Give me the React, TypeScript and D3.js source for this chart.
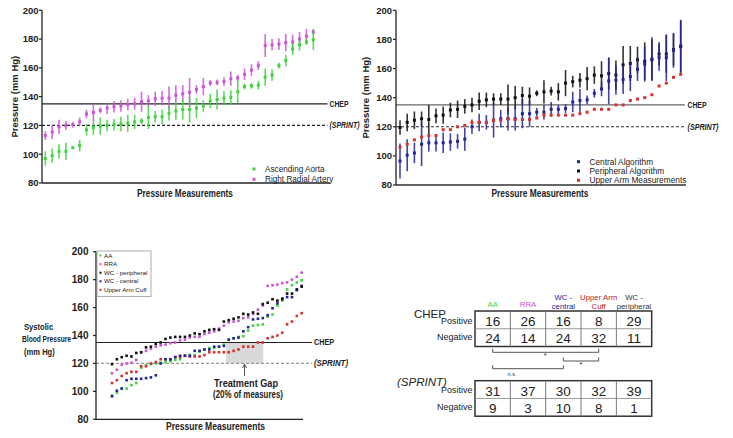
import React from "react";
import * as d3 from "d3";

// ---------- DATA ----------
const measurements = d3.range(40);
const yTicks = [80, 100, 120, 140, 160, 180, 200];
const CHEP = 135;
const SPRINT = 120;

const aaMean = [97, 99, 102, 102, 104.5, 106, 117, 118.5, 119.5, 120, 120.5, 121, 121.5, 122.5, 123, 125.5, 126, 126, 128.5, 130, 131, 131, 132, 133.5, 137, 138, 139, 139.5, 143.5, 147, 147.5, 148, 153.5, 155, 161.5, 165, 173, 176, 178, 179.5];
const aaErr = [5, 5, 5, 6, 1, 4, 4, 5, 6, 4, 4, 5, 6, 5, 2, 8, 4, 5, 5, 6, 7, 9, 7, 4, 5, 7, 5, 5, 8, 2, 2, 3, 6, 4, 2, 4, 4, 4, 2, 7];
const rraMean = [113, 115.5, 119, 120, 120.5, 122.5, 128, 129, 130.5, 132, 133, 133.5, 134.5, 135, 136.5, 137, 138.5, 139, 139, 141, 142, 143, 145, 147, 149.5, 150, 150.5, 152.5, 153, 155.5, 158.5, 161.5, 175.5, 176, 176.5, 177.5, 178, 180, 182, 185];
const rraErr = [3, 5, 5, 3, 2, 3, 3, 6, 2, 4, 4, 4, 4, 4, 7, 4, 5, 5, 8, 7, 6, 10, 3, 6, 2, 2, 3, 5, 2, 4, 4, 3, 8, 4, 4, 6, 5, 5, 5, 2];

const periphMean = [119.5, 123, 124.5, 125.5, 125, 127.5, 128, 131.5, 132, 134, 135, 137.5, 138.5, 139, 139, 139, 140, 141.5, 141, 143, 144, 144.5, 144, 150, 151, 152, 153, 155.5, 155, 156.5, 155.5, 162.5, 163.5, 166, 165, 166, 170, 170, 173, 175];
const periphErr = [5, 6, 6, 5, 10, 5, 6, 5, 6, 5, 5, 6, 5, 4, 4, 10, 8, 6, 6, 2, 8, 3, 6, 9, 4, 5, 8, 6, 10, 11, 10, 13, 12, 9, 13, 14, 8, 13, 11, 18];
const centralMean = [96.5, 100.5, 102, 108, 109, 109, 109, 109.5, 110, 111.5, 120, 123, 123, 124.5, 125.5, 125.5, 125.5, 129, 129, 130, 130, 132, 132, 132.5, 137, 138, 138.5, 143, 146, 151.5, 152, 152.5, 154.5, 159.5, 163, 166.5, 167.5, 167.5, 172.5, 175.5];
const centralErr = [12, 11, 7, 15, 6, 6, 7, 6, 5, 8, 5, 6, 5, 12, 6, 8, 8, 10, 9, 3, 5, 5, 3, 3, 7, 8, 3, 3, 5, 16, 10, 10, 10, 8, 12, 15, 9, 16, 12, 18];
const cuffValues = [106, 108, 111, 113, 114, 114, 118, 118, 120, 121, 123, 123, 123, 124.5, 124.5, 125.5, 125, 125, 125, 126, 128, 128, 128, 128, 128, 129, 130, 132, 132, 132, 135, 135, 138, 139, 140, 142, 148, 150, 154, 156];

const gapRange = [23.4, 31.1];

const tableCols = [["AA"], ["RRA"], ["WC -", "central"], ["Upper Arm", "Cuff"], ["WC -", "peripheral"]];
const chepPositive = [16, 26, 16, 8, 29];
const chepNegative = [24, 14, 24, 32, 11];
const sprintPositive = [31, 37, 30, 32, 39];
const sprintNegative = [9, 3, 10, 8, 1];
const brackets: [number, number, string][] = [[0, 3, "*"], [2, 3, "*"], [0, 2, "n.s."]];

// ---------- STYLE ----------
const C = {
  aa: "#3fd43f",
  rra: "#cc55d6",
  periph: "#111111",
  central: "#23239a",
  cuff: "#d63030",
};
const colHeaderColors = [C.aa, C.rra, C.central, "#c02020", "#333"];
const FONT = "'Liberation Sans', Arial, Helvetica, sans-serif";

type S = { mean: number[]; err?: number[]; color: string; size?: number };

function Dots({ series, x, y, bw = 1.6 }: { series: S[]; x: any; y: any; bw?: number }) {
  return (
    <g>
      {series.map((s, si) => (
        <g key={si}>
          {s.err &&
            measurements.map((i) => (
              <line key={"e" + i} x1={x(i)} x2={x(i)} y1={y(s.mean[i] - s.err![i])} y2={y(s.mean[i] + s.err![i])} stroke={s.color} strokeWidth={bw} opacity={0.85} />
            ))}
          {measurements.map((i) => {
            const sz = s.size ?? 3;
            return <rect key={"p" + i} x={x(i) - sz / 2} y={y(s.mean[i]) - sz / 2} width={sz} height={sz} fill={s.color} />;
          })}
        </g>
      ))}
    </g>
  );
}

function YAxis({ y, x0, fs, labelX }: { y: any; x0: number; fs: number; labelX: number }) {
  return (
    <g>
      <line x1={x0} x2={x0} y1={y(200)} y2={y(80)} stroke="#222" strokeWidth={1.3} />
      {yTicks.map((t) => (
        <g key={t}>
          <line x1={x0 - 3} x2={x0} y1={y(t)} y2={y(t)} stroke="#222" strokeWidth={1.2} />
          <text x={labelX} y={y(t)} dy="0.35em" textAnchor="end" fontSize={fs} fontWeight="bold" fill="#222">
            {t}
          </text>
        </g>
      ))}
    </g>
  );
}

function Legend({ items, x, y0, dy, fs }: { items: [string, string][]; x: number; y0: number; dy: number; fs: number }) {
  return (
    <g>
      {items.map(([label, color], i) => (
        <g key={label}>
          <rect x={x - 1.5} y={y0 + i * dy - 1.5} width={3} height={3} fill={color} />
          <text x={x + 11} y={y0 + i * dy} dy="0.35em" fontSize={fs} fill="#222">{label}</text>
        </g>
      ))}
    </g>
  );
}

export default function App() {
  // Panel A
  const yA = d3.scaleLinear().domain([80, 200]).range([183, 10.3]);
  const xA = d3.scaleLinear().domain([0, 39]).range([45.3, 313.3]);
  // Panel B
  const yB = d3.scaleLinear().domain([80, 200]).range([185, 10.3]);
  const xB = d3.scaleLinear().domain([0, 39]).range([400, 680.7]);
  // Panel C
  const yC = d3.scaleLinear().domain([80, 200]).range([419.3, 251.7]);
  const xC = d3.scaleLinear().domain([0, 39]).range([112, 301.7]);

  // Table layout
  const colX = d3.scaleLinear().domain([0, 5]).range([475, 651.7]);
  const colC = (i: number) => (colX(i) + colX(i + 1)) / 2;
  const gapMid = xC((gapRange[0] + gapRange[1]) / 2);

  const table = (top: number, pos: number[], neg: number[]) => {
    const h = 35.5;
    return (
      <g>
        <rect x={colX(0)} y={top} width={colX(5) - colX(0)} height={h} fill="none" stroke="#333" strokeWidth={1.5} />
        <line x1={colX(0)} x2={colX(5)} y1={top + h / 2} y2={top + h / 2} stroke="#999" strokeWidth={1} />
        {d3.range(1, 5).map((i) => (
          <line key={i} x1={colX(i)} x2={colX(i)} y1={top} y2={top + h} stroke="#777" strokeWidth={1} />
        ))}
        <text x={472.5} y={top + 9.5} dy="0.35em" textAnchor="end" fontSize={9} fill="#222">Positive</text>
        <text x={472.5} y={top + 26} dy="0.35em" textAnchor="end" fontSize={9} fill="#222">Negative</text>
        {pos.map((v, i) => (
          <text key={"p" + i} x={colC(i)} y={top + 10} dy="0.36em" textAnchor="middle" fontSize={13.5} fill="#222">{v}</text>
        ))}
        {neg.map((v, i) => (
          <text key={"n" + i} x={colC(i)} y={top + 27} dy="0.36em" textAnchor="middle" fontSize={13.5} fill="#222">{v}</text>
        ))}
      </g>
    );
  };

  const thr = (y: any, x0: number, x1: number, tx: number, dashColor: string, chepColor: string, fs: number, wC: number, wS: number) => (
    <g>
      <line x1={x0} x2={x1} y1={y(CHEP)} y2={y(CHEP)} stroke={chepColor} strokeWidth={1.2} />
      <line x1={x0} x2={x1} y1={y(SPRINT)} y2={y(SPRINT)} stroke={dashColor} strokeWidth={1.2} strokeDasharray="3,2" />
      <text x={tx} y={y(CHEP)} dy="0.35em" fontSize={fs} fontWeight="bold" fill="#222" textLength={wC} lengthAdjust="spacingAndGlyphs">CHEP</text>
      <text x={tx} y={y(SPRINT)} dy="0.35em" fontSize={fs} fontWeight="bold" fontStyle="italic" fill="#222" textLength={wS} lengthAdjust="spacingAndGlyphs">(SPRINT)</text>
    </g>
  );

  return (
    <svg width={733} height={438} style={{ position: "absolute", left: 0, top: 0, background: "#fff" }} fontFamily={FONT}>
      <rect width={733} height={438} fill="#fff" />
      {/* ---------- Panel A ---------- */}
      <g>
        {thr(yA, 42, 327.5, 329.5, "#222", "#222", 8.5, 19, 30)}
        <Dots x={xA} y={yA} series={[{ mean: rraMean, err: rraErr, color: C.rra }, { mean: aaMean, err: aaErr, color: C.aa }]} />
        <YAxis y={yA} x0={42} fs={9.5} labelX={38.5} />
        <line x1={42} x2={330} y1={yA(80)} y2={yA(80)} stroke="#222" strokeWidth={1.3} />
        <text transform={`translate(18,${yA(140)}) rotate(-90)`} textAnchor="middle" fontSize={9.5} fontWeight="bold" fill="#222">Pressure (mm Hg)</text>
        <text x={185} y={193.5} dy="0.35em" textAnchor="middle" fontSize={10} fontWeight="bold" fill="#222" textLength={96} lengthAdjust="spacingAndGlyphs">Pressure Measurements</text>
        <Legend items={[["Ascending Aorta", C.aa], ["Right Radial Artery", C.rra]]} x={254} y0={169} dy={10.3} fs={8.2} />
      </g>

      {/* ---------- Panel B ---------- */}
      <g>
        {thr(yB, 396, 685, 687.5, "#333", "#666", 8.5, 19, 31)}
        <Dots
          x={xB}
          y={yB}
          series={[
            { mean: periphMean, err: periphErr, color: C.periph },
            { mean: centralMean, err: centralErr, color: C.central },
            { mean: cuffValues, color: C.cuff },
          ]}
        />
        <YAxis y={yB} x0={396} fs={9.5} labelX={392} />
        <line x1={396} x2={686} y1={yB(80)} y2={yB(80)} stroke="#333" strokeWidth={1.3} />
        <text transform={`translate(369,${yB(140)}) rotate(-90)`} textAnchor="middle" fontSize={9.5} fontWeight="bold" fill="#222">Pressure (mm Hg)</text>
        <text x={540} y={193.5} dy="0.35em" textAnchor="middle" fontSize={10} fontWeight="bold" fill="#222" textLength={97} lengthAdjust="spacingAndGlyphs">Pressure Measurements</text>
        <Legend items={[["Central Algorithm", C.central], ["Peripheral Algorithm", C.periph], ["Upper Arm Measurements", C.cuff]]} x={578.5} y0={161.7} dy={9.3} fs={8.3} />
      </g>

      {/* ---------- Panel C ---------- */}
      <g>
        <rect x={xC(gapRange[0])} y={yC(CHEP)} width={xC(gapRange[1]) - xC(gapRange[0])} height={yC(SPRINT) - yC(CHEP)} fill="#d9d9d9" />
        {thr(yC, 96, 312, 314, "#999", "#222", 8.5, 20, 34)}
        <Dots
          x={xC}
          y={yC}
          series={[
            { mean: aaMean, color: C.aa, size: 2.6 },
            { mean: rraMean, color: C.rra, size: 2.6 },
            { mean: cuffValues, color: C.cuff, size: 2.6 },
            { mean: centralMean, color: C.central, size: 2.6 },
            { mean: periphMean, color: C.periph, size: 2.6 },
          ]}
        />
        <YAxis y={yC} x0={96} fs={10} labelX={88.5} />
        <line x1={96} x2={303} y1={yC(80)} y2={yC(80)} stroke="#222" strokeWidth={1.3} />
        {["Systolic", "Blood Pressure", "(mm Hg)"].map((t, i) => (
          <text key={t} transform={`translate(${i === 1 ? 22 : 24},${327 + i * 12.5}) scale(0.8,1)`} dy="0.35em" fontSize={i === 1 ? 8.3 : 9.5} fontWeight="bold" fill="#222">{t}</text>
        ))}
        <text x={215.5} y={426.7} dy="0.35em" textAnchor="middle" fontSize={10} fontWeight="bold" fill="#222" textLength={99} lengthAdjust="spacingAndGlyphs">Pressure Measurements</text>
        {/* arrow */}
        <line x1={gapMid} x2={gapMid} y1={376} y2={365} stroke="#555" strokeWidth={1} />
        <path d={`M${gapMid - 2},368 L${gapMid},364 L${gapMid + 2},368`} fill="none" stroke="#555" strokeWidth={1} />
        <text x={246} y={383} dy="0.35em" textAnchor="middle" fontSize={10.5} fontWeight="bold" fill="#222" textLength={64} lengthAdjust="spacingAndGlyphs">Treatment Gap</text>
        <text x={248} y={394.5} dy="0.35em" textAnchor="middle" fontSize={10.5} fontWeight="bold" fill="#222" textLength={70} lengthAdjust="spacingAndGlyphs">(20% of measures)</text>
        {/* legend box */}
        <rect x={97} y={251} width={54} height={45.5} fill="#fff" stroke="#999" strokeWidth={0.8} />
        {([["AA", C.aa], ["RRA", C.rra], ["WC - peripheral", C.periph], ["WC - central", C.central], ["Upper Arm Cuff", C.cuff]] as [string, string][]).map(([l, c], i) => (
          <g key={l}>
            <rect x={99.5} y={255.5 + i * 8.6 - 1} width={2} height={2} fill={c} />
            <text x={104} y={255.5 + i * 8.6} dy="0.35em" fontSize={6.2} fill="#222">{l}</text>
          </g>
        ))}
      </g>

      {/* ---------- Tables ---------- */}
      <g>
        {tableCols.map((lines, i) => (
          <g key={i}>
            {lines.map((t, j) => (
              <text key={j} x={colC(i)} y={(lines.length === 1 ? 304 : 297.7 + j * 9)} dy="0.35em" textAnchor="middle" fontSize={7.8} fill={colHeaderColors[i]}>{t}</text>
            ))}
          </g>
        ))}
        <text x={414} y={313.5} dy="0.35em" fontSize={11.5} fill="#222">CHEP</text>
        {table(311, chepPositive, chepNegative)}
        {brackets.map(([a, b, label], i) => {
          const ly = [352.3, 361, 368.7][i];
          return (
            <g key={i}>
              <path d={`M${colC(a)},${ly - 3.5} V${ly} H${colC(b)} V${ly - 3.5}`} fill="none" stroke="#555" strokeWidth={1} />
              <text x={(colC(a) + colC(b)) / 2 + (label === "n.s." ? -16 : i === 0 ? -0.5 : 0)} y={ly + (label === "n.s." ? 5.5 : 3.5)} dy="0.35em" textAnchor="middle" fontSize={label === "n.s." ? 5.5 : 7.5} fill="#333">{label}</text>
            </g>
          );
        })}
        <text x={397} y={382} dy="0.35em" fontSize={11.5} fontStyle="italic" fill="#222">(SPRINT)</text>
        {table(380.7, sprintPositive, sprintNegative)}
      </g>
    </svg>
  );
}
